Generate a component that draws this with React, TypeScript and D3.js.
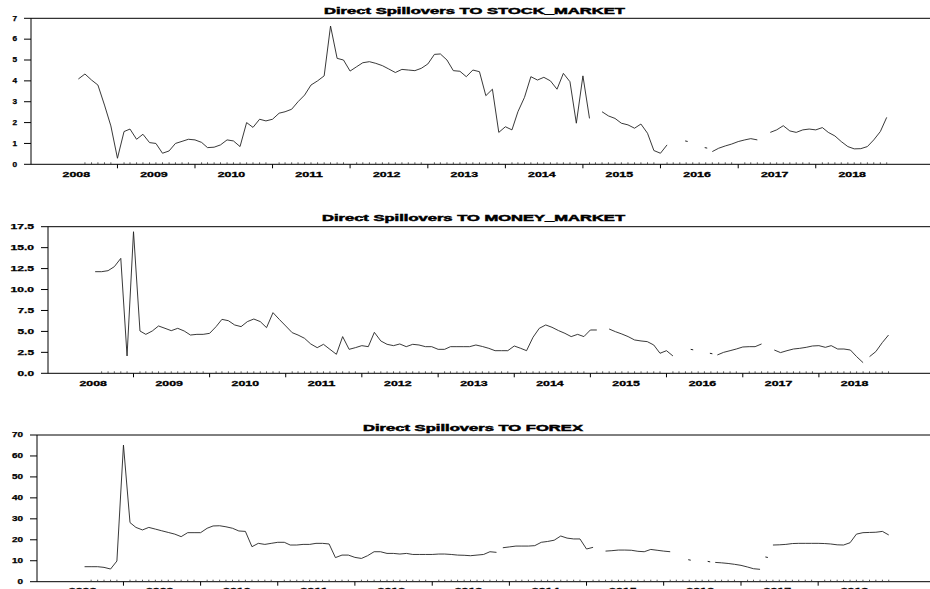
import * as d3 from "d3";

// monthly observations, July 2008 .. December 2018 (null = missing)
const YEARS = [2008, 2009, 2010, 2011, 2012, 2013, 2014, 2015, 2016, 2017, 2018];

const STOCK = [
  4.09, 4.33, 4.04, 3.8, 2.84, 1.84,
  0.29, 1.57, 1.69, 1.2, 1.44, 1.04, 1.0, 0.53, 0.64, 1.0, 1.1, 1.2,
  1.17, 1.05, 0.8, 0.82, 0.93, 1.17, 1.12, 0.85, 2.0, 1.77, 2.16, 2.08,
  2.16, 2.45, 2.52, 2.64, 3.0, 3.32, 3.8, 4.0, 4.24, 6.63, 5.08, 5.0,
  4.47, 4.68, 4.87, 4.92, 4.84, 4.73, 4.57, 4.4, 4.55, 4.52, 4.49, 4.6,
  4.81, 5.27, 5.29, 5.0, 4.49, 4.46, 4.2, 4.52, 4.44, 3.29, 3.6, 1.53,
  1.8, 1.65, 2.52, 3.21, 4.2, 4.04, 4.17, 4.0, 3.6, 4.36, 3.96, 1.97,
  4.24, 2.2, null, 2.52, 2.32, 2.2, 1.97, 1.89, 1.73, 1.93, 1.49, 0.66,
  0.53, 0.93, null, null, 1.12, null, null, 0.8, 0.61, 0.77, 0.88, 0.97,
  1.09, 1.17, 1.23, 1.17, null, 1.53, 1.65, 1.85, 1.6, 1.53, 1.65, 1.69,
  1.65, 1.76, 1.53, 1.36, 1.09, 0.85, 0.74, 0.75, 0.85, 1.17, 1.57, 2.25,
];

const MONEY = [
  12.13, 12.13, 12.25, 12.73, 13.72, 2.07,
  16.9, 5.05, 4.65, 5.05, 5.65, 5.37, 5.09, 5.37, 5.05, 4.57, 4.65, 4.65,
  4.77, 5.57, 6.44, 6.28, 5.77, 5.57, 6.17, 6.48, 6.17, 5.45, 7.24, 6.44,
  5.65, 4.85, 4.57, 4.18, 3.5, 3.06, 3.46, 2.86, 2.27, 4.38, 2.86, 3.06,
  3.3, 3.18, 4.89, 3.86, 3.46, 3.3, 3.5, 3.18, 3.46, 3.38, 3.18, 3.18,
  2.86, 2.86, 3.18, 3.18, 3.18, 3.18, 3.38, 3.2, 2.98, 2.7, 2.7, 2.7,
  3.26, 2.98, 2.7, 4.3, 5.37, 5.77, 5.49, 5.1, 4.77, 4.38, 4.65, 4.38,
  5.17, 5.17, null, 5.29, 4.97, 4.69, 4.38, 3.98, 3.86, 3.78, 3.38, 2.39,
  2.7, 2.07, null, null, 2.86, null, null, 2.39, 2.19, 2.5, 2.7, 2.9,
  3.14, 3.18, 3.18, 3.5, null, 2.78, 2.47, 2.7, 2.9, 2.98, 3.1, 3.26,
  3.3, 3.1, 3.3, 2.9, 2.9, 2.78, 1.99, 1.27, 1.99, 2.59, 3.66, 4.57,
];

const FOREX = [
  7.16, 7.16, 7.16, 6.84, 6.05, 9.86,
  65.2, 28.2, 25.9, 24.7, 25.9, 25.1, 24.3, 23.5, 22.7, 21.5, 23.4, 23.4,
  23.4, 25.5, 26.6, 26.7, 26.2, 25.5, 24.2, 24.0, 16.7, 18.3, 17.8, 18.3,
  18.8, 18.8, 17.5, 17.5, 17.8, 17.8, 18.3, 18.3, 18.0, 11.5, 12.7, 12.7,
  11.6, 11.1, 12.4, 14.3, 14.3, 13.5, 13.5, 13.2, 13.5, 13.0, 13.0, 13.0,
  13.0, 13.2, 13.2, 13.0, 12.7, 12.6, 12.4, 12.7, 13.0, 14.3, 14.0, 16.2,
  16.6, 17.0, 17.0, 17.0, 17.2, 18.8, 19.2, 19.8, 21.8, 20.8, 20.4, 20.4,
  15.6, 16.4, null, 14.6, 14.8, 15.1, 15.1, 15.0, 14.5, 14.3, 15.4, 15.0,
  14.6, 14.3, null, null, 10.5, null, null, 9.7, 9.2, 9.0, 8.7, 8.3,
  7.8, 7.0, 6.2, 5.9, 11.8, 17.5, 17.6, 17.8, 18.2, 18.3, 18.3, 18.3,
  18.3, 18.2, 18.0, 17.6, 17.5, 18.6, 22.7, 23.4, 23.5, 23.6, 24.0, 22.3,
];

// months after which the line is broken although the next month has a value
const STOCK_BREAKS = ["2016-08"];
const MONEY_BREAKS = ["2016-08", "2018-08"];
const FOREX_BREAKS = ["2013-11", "2016-08", "2017-04", "2017-05"];

const STOCK_TICKS = [0, 1, 2, 3, 4, 5, 6, 7];
const MONEY_TICKS = [0, 2.5, 5, 7.5, 10, 12.5, 15, 17.5];
const FOREX_TICKS = [0, 10, 20, 30, 40, 50, 60, 70];

const RIGHT_EDGE = 930;

const PANELS = [
  {
    title: "Direct Spillovers TO STOCK_MARKET", values: STOCK, breaks: STOCK_BREAKS,
    ticks: STOCK_TICKS, fmt: d3.format("d"), max: 7,
    axisX: 31, x0: 39.7, x1: 893.3, yTop: 18.3, yBottom: 164.3,
    titleX: 324, titleLen: 301, titleY: 13.5, labelY: 176.5, digitW: 4.6,
  },
  {
    title: "Direct Spillovers TO MONEY_MARKET", values: MONEY, breaks: MONEY_BREAKS,
    ticks: MONEY_TICKS, fmt: d3.format(".1f"), max: 17.5,
    axisX: 48, x0: 57.2, x1: 895, yTop: 226.7, yBottom: 373.3,
    titleX: 322, titleLen: 303, titleY: 220.5, labelY: 385.5, digitW: 7,
  },
  {
    title: "Direct Spillovers TO FOREX", values: FOREX, breaks: FOREX_BREAKS,
    ticks: FOREX_TICKS, fmt: d3.format("d"), max: 70,
    axisX: 37, x0: 46.1, x1: 895.3, yTop: 435, yBottom: 581.7,
    titleX: 363, titleLen: 220, titleY: 430.5, labelY: 592.5, digitW: 5.5,
  },
];

type Pt = { date: Date; v: number | null };

const monthKey = (i: number) => {
  const d = new Date(Date.UTC(2008, 6 + i, 1));
  return `${d.getUTCFullYear()}-${String(d.getUTCMonth() + 1).padStart(2, "0")}`;
};

const buildPoints = (values: (number | null)[], breaks: string[]) => {
  const pts: Pt[] = [];
  values.forEach((v, i) => {
    pts.push({ date: new Date(Date.UTC(2008, 6 + i, 1)), v });
    if (breaks.includes(monthKey(i))) {
      pts.push({ date: new Date(Date.UTC(2008, 6 + i, 16)), v: null });
    }
  });
  return pts;
};

const Panel = ({ p }: { p: typeof PANELS[number] }) => {
  const x = d3.scaleUtc()
    .domain([new Date(Date.UTC(2008, 0, 1)), new Date(Date.UTC(2019, 0, 1))])
    .range([p.x0, p.x1]);
  const y = d3.scaleLinear().domain([0, p.max]).range([p.yBottom, p.yTop]);

  const pts = buildPoints(p.values, p.breaks);
  const line = d3.line<Pt>()
    .defined(d => d.v != null)
    .x(d => x(d.date))
    .y(d => y(d.v as number));

  // points with no neighbour on either side still get a small mark
  const lonely = pts.filter((d, i) =>
    d.v != null && (i === 0 || pts[i - 1].v == null) && (i === pts.length - 1 || pts[i + 1].v == null));

  const months = d3.utcMonths(new Date(Date.UTC(2008, 7, 1)), new Date(Date.UTC(2019, 0, 1)));

  return (
    <g>
      <text x={p.titleX} y={p.titleY} fontSize={8.5} fontWeight="bold" stroke="#000" strokeWidth={0.45}
        textLength={p.titleLen} lengthAdjust="spacingAndGlyphs" fill="#000">{p.title}</text>

      <line x1={p.axisX} x2={RIGHT_EDGE} y1={p.yTop} y2={p.yTop} stroke="#000" strokeWidth={1} />
      <line x1={p.axisX} x2={RIGHT_EDGE} y1={p.yBottom} y2={p.yBottom} stroke="#000" strokeWidth={1} />
      <line x1={p.axisX} x2={p.axisX} y1={p.yTop} y2={p.yBottom} stroke="#000" strokeWidth={1} />

      {p.ticks.map(t => {
        const s = p.fmt(t);
        const digits = s.replace(".", "").length;
        const dots = s.length - digits;
        return (
          <g key={t}>
            <line x1={p.axisX - 7} x2={p.axisX} y1={y(t)} y2={y(t)} stroke="#000" strokeWidth={1} />
            <text x={p.axisX - 14} y={y(t)} dy="0.35em" textAnchor="end" fontSize={6.5} fontWeight="bold"
              stroke="#000" strokeWidth={0.25}
              textLength={digits * p.digitW + dots * 2.5} lengthAdjust="spacingAndGlyphs">{s}</text>
          </g>
        );
      })}

      {months.map(m => {
        const major = m.getUTCMonth() === 0;
        const xm = x(m);
        return major
          ? <line key={+m} x1={xm} x2={xm} y1={p.yBottom} y2={p.yBottom + 4} stroke="#000" strokeWidth={1} />
          : <line key={+m} x1={xm} x2={xm} y1={p.yBottom} y2={p.yBottom - 2} stroke="#333" strokeWidth={0.8} />;
      })}

      {YEARS.map(yr => (
        <text key={yr} x={x(new Date(Date.UTC(yr, 6, 1))) - 2} y={p.labelY} textAnchor="middle"
          fontSize={7.5} fontWeight="bold" stroke="#000" strokeWidth={0.3}
          textLength={27.5} lengthAdjust="spacingAndGlyphs">{yr}</text>
      ))}

      <path d={line(pts) ?? ""} fill="none" stroke="#222" strokeWidth={0.9} strokeLinejoin="round" />
      {lonely.map(d => (
        <line key={+d.date} x1={x(d.date) - 1} x2={x(d.date) + 1.5} y1={y(d.v as number)} y2={y(d.v as number) + 0.5}
          stroke="#222" strokeWidth={1} />
      ))}
    </g>
  );
};

export default function App() {
  return (
    <svg width={930} height={589} style={{ position: "absolute", left: 0, top: 0, background: "#fff" }}
      fontFamily="'Liberation Sans', Arial, sans-serif">
      {PANELS.map(p => <Panel key={p.title} p={p} />)}
    </svg>
  );
}
